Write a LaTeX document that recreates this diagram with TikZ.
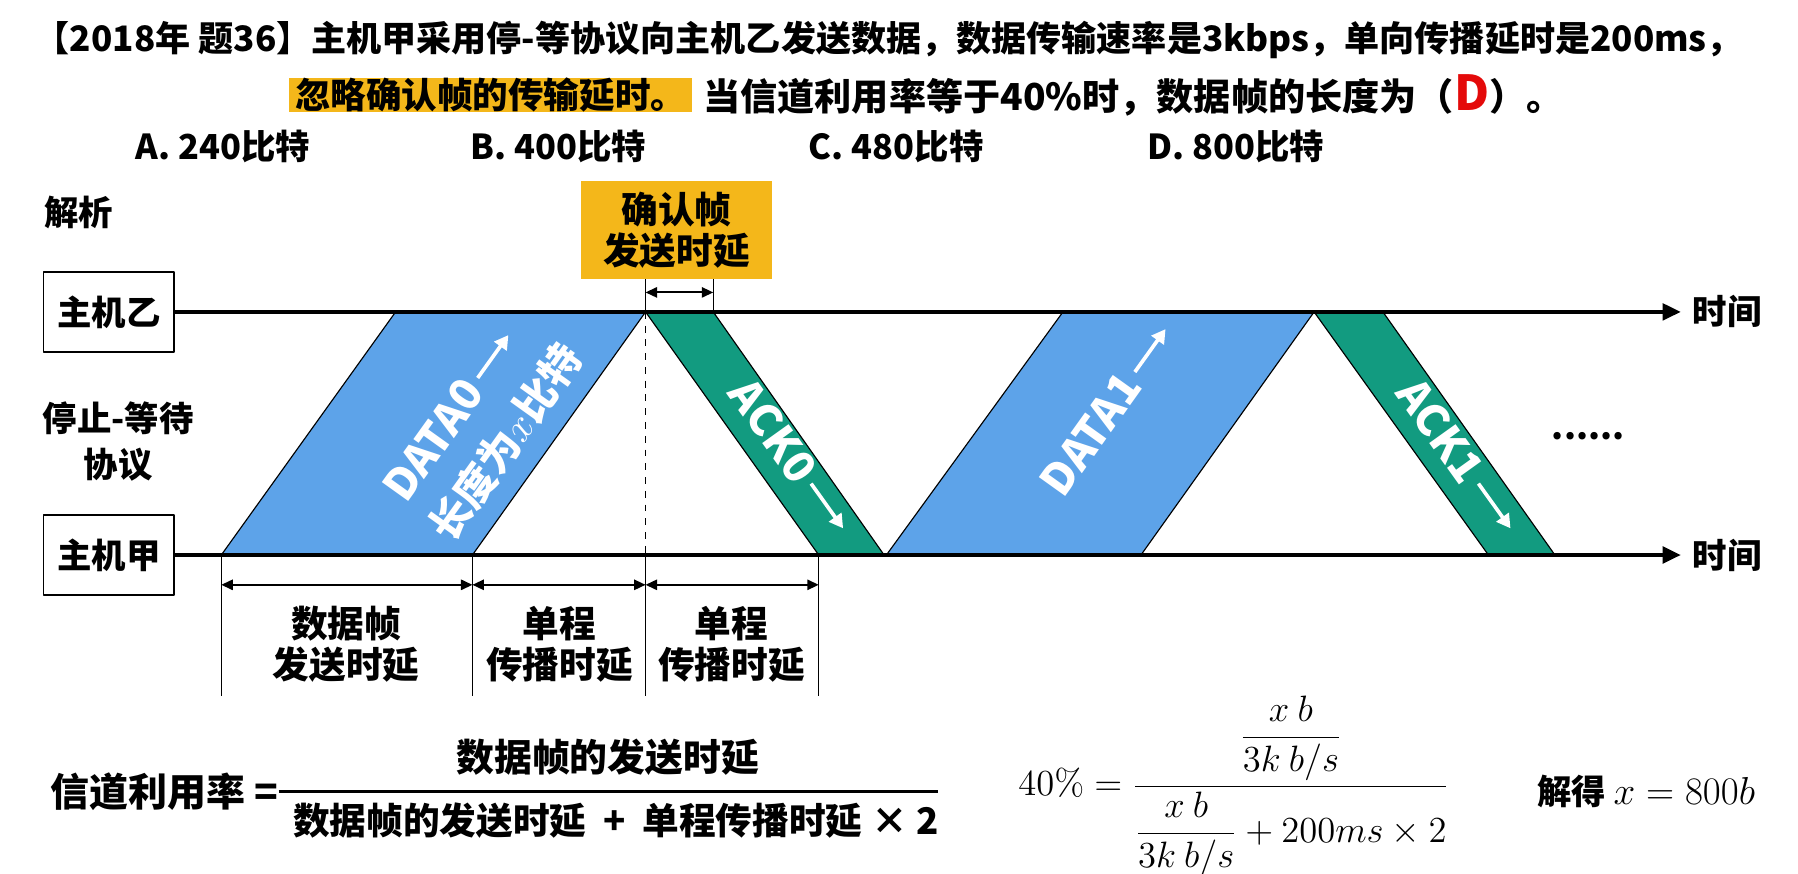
\RequirePackage{fix-cm}
\documentclass[tikz,border=0pt]{standalone}
\usepackage[no-math]{fontspec}
\setmainfont{Noto Sans CJK SC}
\usepackage{amsmath}
\usetikzlibrary{arrows.meta}
\definecolor{datablue}{RGB}{93,163,233}
\definecolor{ackgreen}{RGB}{18,155,128}
\definecolor{hlorange}{RGB}{244,183,26}
\definecolor{ansred}{RGB}{228,10,10}
\tikzset{
	txt/.style={inner sep=0pt, font=\fontsize{15}{18}\selectfont\bfseries},
	hostbox/.style={draw, line width=0.8pt, minimum width=57pt, minimum height=35pt, font=\fontsize{15}{18}\selectfont\bfseries},
	lbl/.style={inner sep=0pt, align=center, font=\fontsize{16}{18}\selectfont\bfseries},
	frame/.style={draw=black, line width=0.5pt},
	timeline/.style={line width=2pt, -{Triangle[length=8pt,width=7pt]}},
	dim/.style={line width=0.8pt, {Triangle[length=5pt,width=4.5pt]}-{Triangle[length=5pt,width=4.5pt]}},
	pkt/.style={white, inner sep=0pt, font=\fontsize{19}{22}\selectfont\bfseries},
	pktarrow/.style={white, line width=1.6pt, -{Triangle[length=6pt,width=6.5pt]}}
}
\begin{document}
\begin{tikzpicture}[x=0.5pt, y=-0.5pt, line join=round]
	\useasboundingbox (0,0) rectangle (1568,762);
	\def\yB{272} % truc chu may B
	\def\yA{484} % truc chu may A
	\def\ang{54.4} % goc nghieng
	% de bai
	\node[txt, anchor=west, font=\fontsize{15.3}{18}\selectfont\bfseries] (q1) at (30,35) {【2018年 题36】主机甲采用停-等协议向主机乙发送数据，数据传输速率是3kbps，单向传播延时是200ms，};
	\node[txt, anchor=west, fill=hlorange, inner xsep=2.5pt, minimum height=15pt, font=\fontsize{15.5}{18}\selectfont\bfseries] (q2a) at (252,83) {忽略确认帧的传输延时。};
	\node[txt, anchor=west, font=\fontsize{16.2}{18}\selectfont\bfseries] (q2b) at (613,83) {当信道利用率等于40\%时，数据帧的长度为（{\color{ansred}\fontsize{21}{21}\selectfont D}）。};
	\node[txt, anchor=west] (optA) at (118,128) {A. 240比特};
	\node[txt, anchor=west] (optB) at (410,128) {B. 400比特};
	\node[txt, anchor=west] (optC) at (705,128) {C. 480比特};
	\node[txt, anchor=west] (optD) at (1000,128) {D. 800比特};
	\node[txt, anchor=west] (jx) at (38,185) {解析};
	\node[lbl, fill=hlorange, minimum width=83pt, minimum height=42.5pt] (ackbox) at (590,200.5) {确认帧\\发送时延};
	% cac diem
	\coordinate (d0a) at (193,\yA); \coordinate (d0b) at (412,\yA);
	\coordinate (d0c) at (563,\yB); \coordinate (d0d) at (345,\yB);
	\coordinate (k0a) at (563,\yB); \coordinate (k0b) at (622,\yB);
	\coordinate (k0c) at (771,\yA); \coordinate (k0d) at (714,\yA);
	\coordinate (d1a) at (773,\yA); \coordinate (d1b) at (995,\yA);
	\coordinate (d1c) at (1146,\yB); \coordinate (d1d) at (927,\yB);
	\coordinate (k1a) at (1146,\yB); \coordinate (k1b) at (1206,\yB);
	\coordinate (k1c) at (1356,\yA); \coordinate (k1d) at (1298,\yA);
	\coordinate (mid) at (563,\yA);
	% khung du lieu va ACK
	\filldraw[frame, fill=datablue] (d0a)--(d0b)--(d0c)--(d0d)--cycle;
	\filldraw[frame, fill=ackgreen] (k0a)--(k0b)--(k0c)--(k0d)--cycle;
	\filldraw[frame, fill=datablue] (d1a)--(d1b)--(d1c)--(d1d)--cycle;
	\filldraw[frame, fill=ackgreen] (k1a)--(k1b)--(k1c)--(k1d)--cycle;
	\begin{scope}[shift={(420,371)}, rotate=\ang, transform shape]
		\node[pkt, anchor=base west] (t0) at (-95,-13) {DATA0};
		\draw[pktarrow] (t0.east) ++(6,0) -- ++(46,0);
		\node[pkt, anchor=base, font=\fontsize{18}{22}\selectfont\bfseries] (t0b) at (0,39) {长度为$x$比特};
	\end{scope}
	\begin{scope}[shift={(973,360)}, rotate=\ang, transform shape]
		\node[pkt, anchor=base west] (t1) at (-88,7) {DATA1};
		\draw[pktarrow] (t1.east) ++(6,0) -- ++(46,0);
	\end{scope}
	\begin{scope}[shift={(683,400)}, rotate=-\ang, transform shape]
		\node[pkt, anchor=base west] (a0) at (-75,7) {ACK0};
		\draw[pktarrow] (a0.east) ++(6,0) -- ++(48,0);
	\end{scope}
	\begin{scope}[shift={(1265,400)}, rotate=-\ang, transform shape]
		\node[pkt, anchor=base west] (a1) at (-75,7) {ACK1};
		\draw[pktarrow] (a1.east) ++(6,0) -- ++(48,0);
	\end{scope}
	\draw[dashed, line width=0.6pt] (d0c)--(mid);
	% truc thoi gian
	\node[hostbox] (hostB) at (95,\yB) {主机乙};
	\node[hostbox] (hostA) at (95,\yA) {主机甲};
	\coordinate (eB) at (1466,\yB); \coordinate (eA) at (1466,\yA);
	\draw[timeline] (hostB.east)--(eB);
	\draw[timeline] (hostA.east)--(eA);
	\node[txt, anchor=west] (tB) at (1476,\yB) {时间};
	\node[txt, anchor=west] (tA) at (1476,\yA) {时间};
	\node[txt, align=center, font=\fontsize{15}{20}\selectfont\bfseries] (proto) at (103,385) {停止-等待\\协议};
	\node[txt] (dots) at (1385,380) {......};
	% thoi gian gui ACK
	\draw[line width=0.6pt] (ackbox.south -| k0a)--(k0a) (ackbox.south -| k0b)--(k0b);
	\draw[dim] (563,255)--(622,255);
	% kich thuoc
	\foreach \p in {d0a,d0b,mid,k0d} \draw[line width=0.6pt] (\p)--++(0,123);
	\draw[dim] (193,510)--(412,510);
	\draw[dim] (412,510)--(563,510);
	\draw[dim] (563,510)--(714,510);
	\node[lbl] (lSend) at (302,562) {数据帧\\发送时延};
	\node[lbl] (lProp1) at (488,562) {单程\\传播时延};
	\node[lbl] (lProp2) at (638,562) {单程\\传播时延};
	% cong thuc
	\node[txt, anchor=east, font=\fontsize{17}{20}\selectfont\bfseries] (util) at (243,690) {信道利用率 =};
	\draw[line width=1.5pt] (util.east)--(818,690) coordinate (barR);
	\node[txt, font=\fontsize{16.5}{20}\selectfont\bfseries] (num) at (530,660) {数据帧的发送时延};
	\node[txt, font=\fontsize{16}{20}\selectfont\bfseries] (den) at (537,716) {数据帧的发送时延 ~+~ 单程传播时延 × 2};
	\node[inner sep=0pt, font=\fontsize{16}{18}\selectfont] (eq) at (1076,686) {$\displaystyle 40\% = \frac{\dfrac{x\ b}{3k\ b/s}}{\dfrac{x\ b}{3k\ b/s}+200ms\times 2}$};
	\node[txt, anchor=west] (sol) at (1340,690) {解得 \fontsize{17}{18}\selectfont\mdseries$x=800b$};
\end{tikzpicture}
\end{document}
